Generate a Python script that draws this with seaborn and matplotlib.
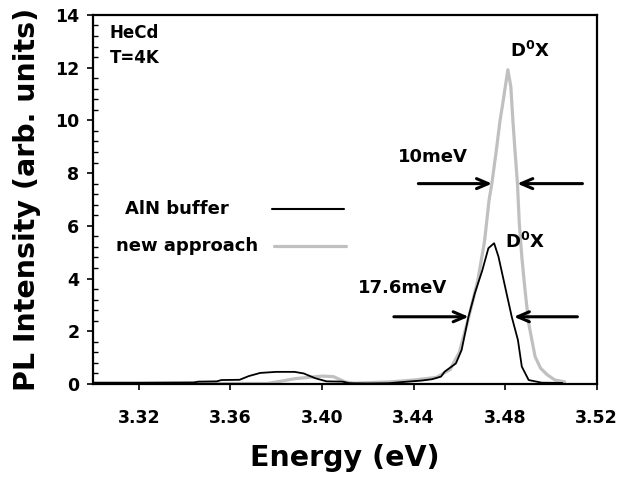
import numpy as np
import pandas as pd
import matplotlib
matplotlib.use("Agg")
import matplotlib.pyplot as plt
from matplotlib.ticker import MultipleLocator, FixedLocator
import seaborn as sns

# PL spectra, HeCd excitation at 4 K
aln_energy = [3.300, 3.320, 3.344, 3.346, 3.354, 3.356, 3.364, 3.368, 3.373, 3.380,
              3.388, 3.392, 3.397, 3.402, 3.409, 3.412, 3.420, 3.429, 3.436, 3.4435,
              3.448, 3.452, 3.4536, 3.4585, 3.461, 3.464, 3.4668, 3.470, 3.4727, 3.4752,
              3.4771, 3.4803, 3.4829, 3.4856, 3.4873, 3.4903, 3.496, 3.505]
aln_intensity = [0.05, 0.05, 0.06, 0.09, 0.10, 0.15, 0.16, 0.30, 0.42, 0.46,
                 0.46, 0.40, 0.22, 0.10, 0.09, 0.03, 0.02, 0.03, 0.08, 0.13,
                 0.18, 0.28, 0.47, 0.78, 1.29, 2.55, 3.45, 4.30, 5.15, 5.34,
                 4.83, 3.57, 2.55, 1.67, 0.66, 0.15, 0.05, 0.04]

new_energy = [3.300, 3.340, 3.376, 3.378, 3.383, 3.388, 3.395, 3.400, 3.405, 3.410,
              3.414, 3.420, 3.430, 3.440, 3.450, 3.456, 3.460, 3.464, 3.468, 3.471,
              3.4730, 3.4742, 3.476, 3.4778, 3.479, 3.4812, 3.4825, 3.4834, 3.4844, 3.4854,
              3.4862, 3.4873, 3.4887, 3.4903, 3.4931, 3.4955, 3.4984, 3.5018, 3.506]
new_intensity = [0.02, 0.02, 0.02, 0.05, 0.12, 0.20, 0.26, 0.30, 0.28, 0.08,
                 0.03, 0.05, 0.08, 0.15, 0.25, 0.55, 1.20, 2.50, 3.90, 5.40,
                 6.98, 7.60, 8.75, 10.00, 10.65, 11.92, 11.28, 10.00, 8.76, 7.60,
                 6.10, 4.83, 3.57, 2.30, 1.04, 0.60, 0.35, 0.15, 0.08]

series_names = ["AlN buffer", "new approach"]
x_ticks = [3.32, 3.36, 3.40, 3.44, 3.48, 3.52]
y_ticks = [0, 2, 4, 6, 8, 10, 12, 14]

sns.set_theme(style="ticks")
plt.rcParams["font.family"] = ["DejaVu Sans"]
plt.rcParams["font.weight"] = "bold"
plt.rcParams["mathtext.fontset"] = "dejavusans"
plt.rcParams["text.color"] = "black"
plt.rcParams["axes.labelcolor"] = "black"
plt.rcParams["xtick.color"] = "black"
plt.rcParams["ytick.color"] = "black"

df = pd.concat([
    pd.DataFrame({"energy": aln_energy, "intensity": aln_intensity, "sample": series_names[0]}),
    pd.DataFrame({"energy": new_energy, "intensity": new_intensity, "sample": series_names[1]}),
])

fig = plt.figure(figsize=(6.17, 4.8), dpi=100)
ax = fig.add_axes([0.151, 0.2, 0.816, 0.769])

palette = {series_names[0]: "#000000", series_names[1]: "#c0c0c0"}
widths = {series_names[0]: 1.3, series_names[1]: 2.3}
for name in [series_names[1], series_names[0]]:
    sub = df[df["sample"] == name]
    sns.lineplot(data=sub, x="energy", y="intensity", ax=ax, color=palette[name],
                 lw=widths[name], sort=False, estimator=None, legend=False)

ax.set_xlim(3.30, 3.52)
ax.set_ylim(0, 14)
ax.xaxis.set_major_locator(FixedLocator(x_ticks))
ax.yaxis.set_major_locator(FixedLocator(y_ticks))
ax.yaxis.set_minor_locator(MultipleLocator(0.4))
ax.set_xticklabels([f"{v:.2f}" for v in x_ticks])
ax.set_yticklabels([str(v) for v in y_ticks])

for s in ax.spines.values():
    s.set_linewidth(1.6)
    s.set_color("black")
    s.set_visible(True)
ax.tick_params(axis="both", which="major", direction="out", length=4, width=1.2,
               labelsize=12.5, colors="black")
ax.tick_params(axis="x", which="major", pad=14)
ax.tick_params(axis="y", which="major", pad=6)
ax.tick_params(axis="y", which="minor", direction="in", length=3.5, width=1.0, colors="black")
for lab in ax.get_xticklabels() + ax.get_yticklabels():
    lab.set_fontweight("bold")

ax.set_xlabel("Energy (eV)", fontsize=20.5, fontweight="bold", labelpad=12, color="black")
ax.set_ylabel("PL Intensity (arb. units)", fontsize=20.5, fontweight="bold", labelpad=10,
              color="black")

# Sample conditions
ax.text(3.3073, 13.32, "HeCd", fontsize=12, fontweight="bold", va="center", ha="left")
ax.text(3.3073, 12.37, "T=4K", fontsize=12, fontweight="bold", va="center", ha="left")

# Series key drawn beside the curves
ax.text(3.3139, 6.64, series_names[0], fontsize=13, fontweight="bold", va="center", ha="left")
ax.text(3.3100, 5.25, series_names[1], fontsize=13, fontweight="bold", va="center", ha="left")
ax.plot([3.3780, 3.4098], [6.64, 6.64], color=palette[series_names[0]], lw=1.5)
ax.plot([3.3790, 3.4105], [5.25, 5.25], color=palette[series_names[1]], lw=2.3)

# Peak labels
ax.text(3.4908, 12.64, r"$\mathbf{D^0X}$", fontsize=13, ha="center", va="center")
ax.text(3.4887, 5.37, r"$\mathbf{D^0X}$", fontsize=13, ha="center", va="center")

# Linewidth markers
arrow_kw = dict(arrowstyle="->, head_length=0.7, head_width=0.3", lw=2.2, color="black",
                shrinkA=0, shrinkB=0)
ax.text(3.4486, 8.6, "10meV", fontsize=13, fontweight="bold", ha="center", va="center")
ax.annotate("", xy=(3.4743, 7.6), xytext=(3.4421, 7.6), arrowprops=arrow_kw)
ax.annotate("", xy=(3.4853, 7.6), xytext=(3.5138, 7.6), arrowprops=arrow_kw)
ax.text(3.4350, 3.64, "17.6meV", fontsize=13, fontweight="bold", ha="center", va="center")
ax.annotate("", xy=(3.4641, 2.55), xytext=(3.4314, 2.55), arrowprops=arrow_kw)
ax.annotate("", xy=(3.4838, 2.55), xytext=(3.5116, 2.55), arrowprops=arrow_kw)

fig.savefig("out.png", dpi=100)
